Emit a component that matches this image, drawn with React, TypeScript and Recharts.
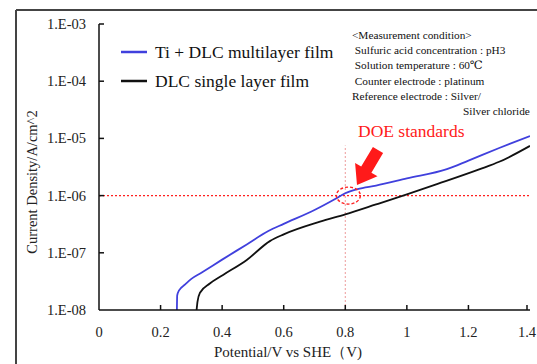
import { LineChart, Line, XAxis, YAxis, ReferenceLine, ReferenceDot } from "recharts"

const xTicks = [0, 0.2, 0.4, 0.6, 0.8, 1, 1.2, 1.4]
const xTickLabels = ["0", "0.2", "0.4", "0.6", "0.8", "1", "1.2", "1.4"]
const yTicks = [1e-8, 1e-7, 1e-6, 1e-5, 1e-4, 1e-3]
const yTickLabels = ["1.E-08", "1.E-07", "1.E-06", "1.E-05", "1.E-04", "1.E-03"]

// Ti + DLC multilayer film
const multiPotential = [0.253, 0.254, 0.26, 0.28, 0.3, 0.33, 0.4, 0.48, 0.55, 0.6, 0.7, 0.77, 0.8, 0.84, 0.9, 1.0, 1.13, 1.2, 1.3, 1.4]
const multiCurrent = [1e-8, 1.8e-8, 2.2e-8, 2.8e-8, 3.5e-8, 4.4e-8, 7.6e-8, 1.4e-7, 2.4e-7, 3.2e-7, 5.6e-7, 8.9e-7, 1.1e-6, 1.3e-6, 1.5e-6, 2.0e-6, 2.9e-6, 4.1e-6, 6.8e-6, 1.1e-5]

// DLC single layer film
const singlePotential = [0.317, 0.32, 0.328, 0.36, 0.403, 0.48, 0.555, 0.6, 0.718, 0.8, 0.9, 1.0, 1.1, 1.237, 1.3, 1.4]
const singleCurrent = [1e-8, 1.4e-8, 2.0e-8, 2.9e-8, 4.1e-8, 7.5e-8, 1.6e-7, 2.1e-7, 3.5e-7, 4.7e-7, 7.0e-7, 1.05e-6, 1.6e-6, 2.9e-6, 3.9e-6, 7.4e-6]

const doeLimit = 1e-6
const doePotential = 0.8

const conditionLines = [
  "<Measurement condition>",
  " Sulfuric acid concentration : pH3",
  " Solution temperature : 60\u2103",
  " Counter electrode : platinum",
  "Reference electrode : Silver/",
]

const multiData = multiPotential.map((v, i) => ({ v, i: multiCurrent[i] }))
const singleData = singlePotential.map((v, i) => ({ v, i: singleCurrent[i] }))

const serif = "'Liberation Serif', 'Times New Roman', 'DejaVu Serif', serif"
const serifStyle = { fontFamily: serif }

function XTick(props: any) {
  const { x, y, payload } = props
  const idx = xTicks.indexOf(payload.value)
  return (
    <g>
      {idx > 0 && <line x1={x} y1={y} x2={x} y2={y - 5} stroke="#111" strokeWidth={1.5} />}
      <text x={x} y={y + 27} textAnchor="middle" style={serifStyle} fontSize={14.5} fill="#222">
        {xTickLabels[idx]}
      </text>
    </g>
  )
}

function YTick(props: any) {
  const { x, y, payload } = props
  const idx = yTicks.findIndex((t) => Math.abs(Math.log10(t) - Math.log10(payload.value)) < 0.01)
  return (
    <g>
      {idx > 0 && <line x1={x} y1={y} x2={x + 5} y2={y} stroke="#111" strokeWidth={1.5} />}
      <text x={x - 13} y={y + 5} textAnchor="end" style={serifStyle} fontSize={14.5} fill="#222">
        {yTickLabels[idx]}
      </text>
    </g>
  )
}

export default function App() {
  return (
    <div style={{ position: "absolute", left: 0, top: 0, width: 537, height: 364, background: "#fff", fontFamily: serif }}>
      <LineChart width={537} height={364} margin={{ top: 24, right: 7, bottom: 0, left: 0 }}>
        <XAxis
          type="number"
          dataKey="v"
          domain={[0, 1.4]}
          ticks={xTicks}
          height={54}
          tickSize={0}
          tickMargin={0}
          tick={<XTick />}
          stroke="#111"
          strokeWidth={1.5}
          allowDataOverflow
        />
        <YAxis
          type="number"
          dataKey="i"
          scale="log"
          domain={[1e-8, 1e-3]}
          ticks={yTicks}
          width={99}
          tickSize={0}
          tickMargin={0}
          tick={<YTick />}
          stroke="#111"
          strokeWidth={1.5}
          allowDataOverflow
        />
        <ReferenceLine y={doeLimit} stroke="#ff2020" strokeDasharray="2 2" strokeWidth={1.2} />
        <ReferenceLine
          segment={[
            { x: doePotential, y: 1e-8 },
            { x: doePotential, y: 7.5e-6 },
          ]}
          stroke="#e88080"
          strokeDasharray="2 2"
          strokeWidth={0.8}
        />
        <Line data={singleData} dataKey="i" type="monotone" stroke="#111" strokeWidth={1.8} dot={false} isAnimationActive={false} />
        <Line data={multiData} dataKey="i" type="monotone" stroke="#4040dd" strokeWidth={1.8} dot={false} isAnimationActive={false} />
        <ReferenceDot
          x={0.81}
          y={doeLimit}
          shape={(p: any) => (
            <ellipse cx={p.cx} cy={p.cy} rx={12} ry={8.5} fill="none" stroke="#ff2020" strokeWidth={1.4} strokeDasharray="3 2" />
          )}
        />
      </LineChart>
      <svg width={537} height={364} style={{ position: "absolute", left: 0, top: 0, pointerEvents: "none", fontFamily: serif }}>
        <line x1={16} y1={10} x2={537} y2={10} stroke="#444" strokeWidth={2} />
        <line x1={16} y1={10} x2={16} y2={364} stroke="#444" strokeWidth={2} />
        <line x1={121} y1={52} x2={147} y2={52} stroke="#4040dd" strokeWidth={2.5} />
        <text x={155} y={58} fontSize={17.5} fill="#111">Ti + DLC multilayer film</text>
        <line x1={121} y1={81} x2={147} y2={81} stroke="#111" strokeWidth={2.5} />
        <text x={155} y={87} fontSize={17.5} fill="#111">DLC single layer film</text>
        {conditionLines.map((t, k) => (
          <text key={k} x={352} y={39 + k * 15.2} fontSize={11.3} fill="#111" style={{ whiteSpace: "pre" }}>
            {t}
          </text>
        ))}
        <text x={463} y={115} fontSize={11.3} fill="#111">Silver chloride</text>
        <text x={358} y={137} fontSize={17.5} fill="#ff1a1a">DOE standards</text>
        <polygon
          points="383.1,153.1 371.4,172.7 377.5,176.3 357,185 355.1,162.9 361.2,166.5 372.9,146.9"
          fill="#ff1a1a"
        />
        <text transform="translate(37,182) rotate(-90)" textAnchor="middle" fontSize={14.5} fill="#222">
          Current Density/A/cm^2
        </text>
        <text x={288} y={357} textAnchor="middle" fontSize={15} fill="#222">
          Potential/V vs SHE（V)
        </text>
      </svg>
    </div>
  )
}
